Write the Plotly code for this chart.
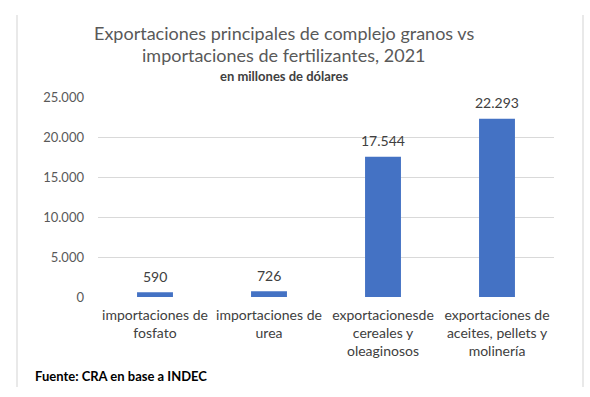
import plotly.graph_objects as go

categories = [
    "importaciones de<br>fosfato",
    "importaciones de<br>urea",
    "exportacionesde<br>cereales y<br>oleaginosos",
    "exportaciones de<br>aceites, pellets y<br>molinería",
]
values = [590, 726, 17544, 22293]
y_ticks = [0, 5000, 10000, 15000, 20000, 25000]
title_lines = [
    "Exportaciones principales de complejo granos vs",
    "importaciones de fertilizantes, 2021",
]
subtitle = "en millones de dólares"
source = "Fuente: CRA en base a INDEC"

W, H = 590, 397
L, R, T, B = 98, 36, 97, 100
PW, PH = W - L - R, H - T - B

def px_x(p):
    return (p - L) / PW

def px_y(p):
    return (H - B - p) / PH

FONT = "Lato"
BLUE = "#4472C4"

fig = go.Figure()
fig.add_trace(go.Bar(
    x=categories, y=values, marker_color=BLUE, marker_line_width=0,
    hoverinfo="skip",
))

annotations = []
for c, v in zip(categories, values):
    annotations.append(dict(
        x=c, y=v, xref="x", yref="y", text=f"{v:,}".replace(",", "."),
        showarrow=False, yanchor="middle", yshift=16,
        font=dict(family=FONT, size=14, color="#404040"),
    ))

for line, yc in zip(title_lines, (33, 55)):
    annotations.append(dict(
        x=px_x(284), y=px_y(yc), xref="paper", yref="paper",
        text=line, showarrow=False, xanchor="center", yanchor="middle",
        font=dict(family=FONT, size=18, color="#595959"),
    ))

annotations.append(dict(
    x=px_x(284), y=px_y(76), xref="paper", yref="paper",
    text=f"<b>{subtitle}</b>", showarrow=False,
    xanchor="center", yanchor="middle",
    font=dict(family=FONT, size=13, color="#404040"),
))
annotations.append(dict(
    x=px_x(33), y=px_y(376), xref="paper", yref="paper",
    text=f"<b>{source}</b>", showarrow=False,
    xanchor="left", yanchor="middle",
    font=dict(family=FONT, size=13, color="#000000"),
))

shapes = []
for xp in (17, 583):
    shapes.append(dict(
        type="line", xref="paper", yref="paper",
        x0=px_x(xp), x1=px_x(xp), y0=px_y(15), y1=px_y(387),
        line=dict(color="#e2e2e2", width=1.5),
    ))

fig.update_layout(
    width=W, height=H, autosize=False,
    margin=dict(l=L, r=R, t=T, b=B),
    paper_bgcolor="white", plot_bgcolor="white",
    separators=",.",
    bargap=0.685,
    showlegend=False,
    xaxis=dict(
        showgrid=False, showline=False, zeroline=False, ticks="",
        ticklabelstandoff=8,
        tickfont=dict(family=FONT, size=14, color="#404040"),
    ),
    yaxis=dict(
        range=[0, 25000], tickvals=y_ticks, tickformat=",.0f",
        showgrid=True, gridcolor="#d9d9d9", gridwidth=1,
        zeroline=False, showline=False, ticks="",
        ticklabelstandoff=13,
        tickfont=dict(family=FONT, size=13, color="#595959"),
    ),
    annotations=annotations,
    shapes=shapes,
)

fig.write_html(
    "out.html",
    config={"displayModeBar": False},
    post_script="document.body.style.margin='0';document.body.style.overflow='hidden';",
)
